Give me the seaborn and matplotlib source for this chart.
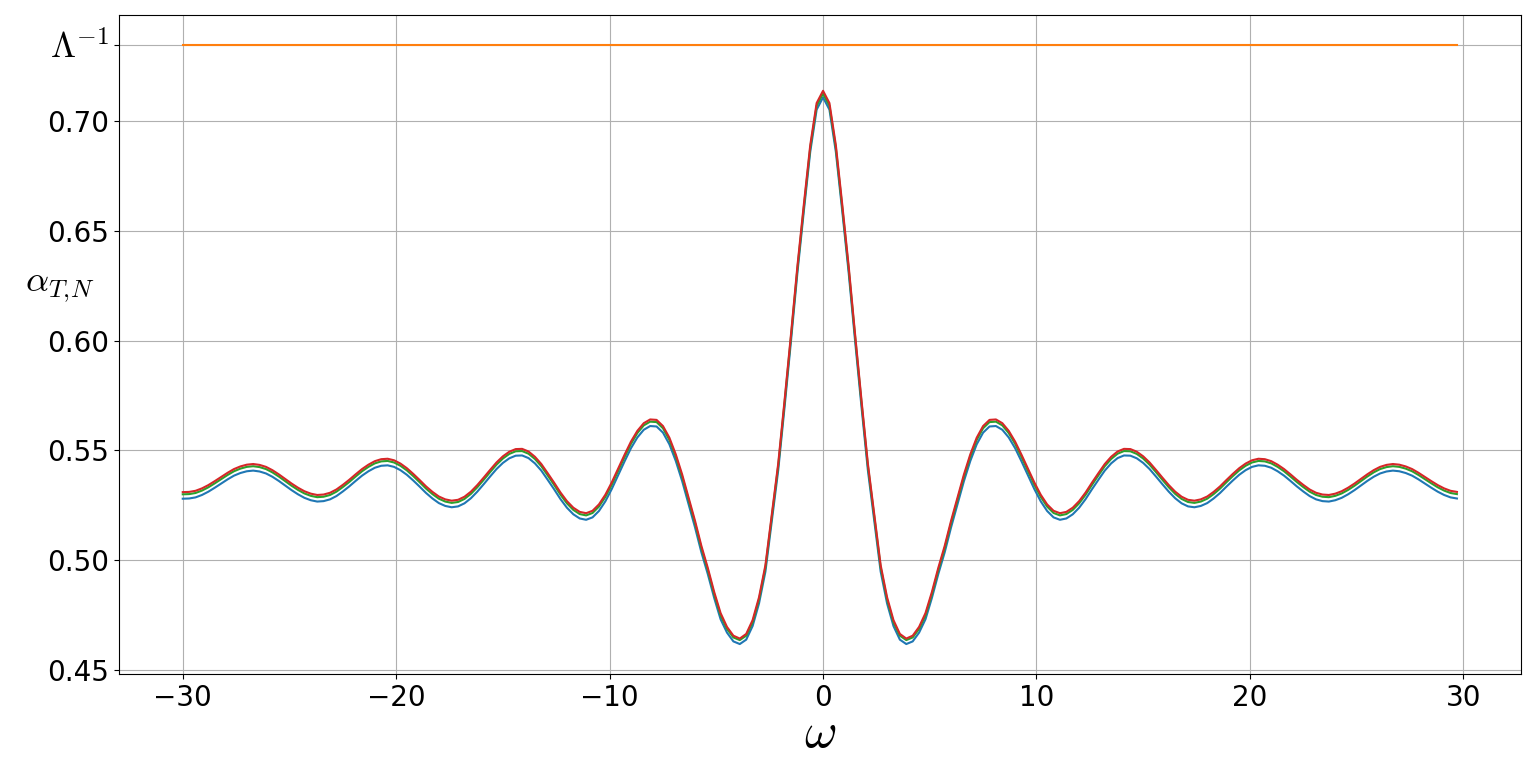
import matplotlib
matplotlib.use("Agg")
import matplotlib.pyplot as plt
import pandas as pd
import seaborn as sns

# omega grid, step 0.3 from -30 to 29.7
omega = [-30.0, -29.7, -29.4, -29.1, -28.8, -28.5, -28.2, -27.9, -27.6, -27.3,
         -27.0, -26.7, -26.4, -26.1, -25.8, -25.5, -25.2, -24.9, -24.6, -24.3,
         -24.0, -23.7, -23.4, -23.1, -22.8, -22.5, -22.2, -21.9, -21.6, -21.3,
         -21.0, -20.7, -20.4, -20.1, -19.8, -19.5, -19.2, -18.9, -18.6, -18.3,
         -18.0, -17.7, -17.4, -17.1, -16.8, -16.5, -16.2, -15.9, -15.6, -15.3,
         -15.0, -14.7, -14.4, -14.1, -13.8, -13.5, -13.2, -12.9, -12.6, -12.3,
         -12.0, -11.7, -11.4, -11.1, -10.8, -10.5, -10.2, -9.9, -9.6, -9.3,
         -9.0, -8.7, -8.4, -8.1, -7.8, -7.5, -7.2, -6.9, -6.6, -6.3,
         -6.0, -5.7, -5.4, -5.1, -4.8, -4.5, -4.2, -3.9, -3.6, -3.3,
         -3.0, -2.7, -2.4, -2.1, -1.8, -1.5, -1.2, -0.9, -0.6, -0.3,
         0.0,
         0.3, 0.6, 0.9, 1.2, 1.5, 1.8, 2.1, 2.4, 2.7, 3.0,
         3.3, 3.6, 3.9, 4.2, 4.5, 4.8, 5.1, 5.4, 5.7, 6.0,
         6.3, 6.6, 6.9, 7.2, 7.5, 7.8, 8.1, 8.4, 8.7, 9.0,
         9.3, 9.6, 9.9, 10.2, 10.5, 10.8, 11.1, 11.4, 11.7, 12.0,
         12.3, 12.6, 12.9, 13.2, 13.5, 13.8, 14.1, 14.4, 14.7, 15.0,
         15.3, 15.6, 15.9, 16.2, 16.5, 16.8, 17.1, 17.4, 17.7, 18.0,
         18.3, 18.6, 18.9, 19.2, 19.5, 19.8, 20.1, 20.4, 20.7, 21.0,
         21.3, 21.6, 21.9, 22.2, 22.5, 22.8, 23.1, 23.4, 23.7, 24.0,
         24.3, 24.6, 24.9, 25.2, 25.5, 25.8, 26.1, 26.4, 26.7, 27.0,
         27.3, 27.6, 27.9, 28.2, 28.5, 28.8, 29.1, 29.4, 29.7]

alpha_blue = [0.5280, 0.5281, 0.5286, 0.5297, 0.5312, 0.5330, 0.5349, 0.5368, 0.5385, 0.5397,
              0.5405, 0.5408, 0.5404, 0.5395, 0.5380, 0.5361, 0.5340, 0.5319, 0.5300, 0.5284,
              0.5273, 0.5267, 0.5269, 0.5277, 0.5292, 0.5313, 0.5336, 0.5361, 0.5385, 0.5405,
              0.5421, 0.5430, 0.5432, 0.5425, 0.5410, 0.5389, 0.5363, 0.5335, 0.5306, 0.5281,
              0.5260, 0.5247, 0.5241, 0.5245, 0.5259, 0.5282, 0.5312, 0.5346, 0.5381, 0.5415,
              0.5443, 0.5464, 0.5476, 0.5477, 0.5465, 0.5441, 0.5408, 0.5366, 0.5323, 0.5278,
              0.5239, 0.5209, 0.5190, 0.5184, 0.5195, 0.5224, 0.5268, 0.5324, 0.5387, 0.5450,
              0.5510, 0.5559, 0.5594, 0.5611, 0.5609, 0.5581, 0.5528, 0.5452, 0.5360, 0.5255,
              0.5150, 0.5036, 0.4937, 0.4828, 0.4731, 0.4670, 0.4630, 0.4618, 0.4638, 0.4700,
              0.4803, 0.4948, 0.5180, 0.5410, 0.5700, 0.6000, 0.6310, 0.6590, 0.6860, 0.7052,
              0.7108,
              0.7052, 0.6860, 0.6590, 0.6310, 0.6000, 0.5700, 0.5410, 0.5180, 0.4948, 0.4803,
              0.4700, 0.4638, 0.4618, 0.4630, 0.4670, 0.4731, 0.4828, 0.4937, 0.5036, 0.5150,
              0.5255, 0.5360, 0.5452, 0.5528, 0.5581, 0.5609, 0.5611, 0.5594, 0.5559, 0.5510,
              0.5450, 0.5387, 0.5324, 0.5268, 0.5224, 0.5195, 0.5184, 0.5190, 0.5209, 0.5239,
              0.5278, 0.5323, 0.5366, 0.5408, 0.5441, 0.5465, 0.5477, 0.5476, 0.5464, 0.5443,
              0.5415, 0.5381, 0.5346, 0.5312, 0.5282, 0.5259, 0.5245, 0.5241, 0.5247, 0.5260,
              0.5281, 0.5306, 0.5335, 0.5363, 0.5389, 0.5410, 0.5425, 0.5432, 0.5430, 0.5421,
              0.5405, 0.5385, 0.5361, 0.5336, 0.5313, 0.5292, 0.5277, 0.5269, 0.5267, 0.5273,
              0.5284, 0.5300, 0.5319, 0.5340, 0.5361, 0.5380, 0.5395, 0.5404, 0.5408, 0.5405,
              0.5397, 0.5385, 0.5368, 0.5349, 0.5330, 0.5312, 0.5297, 0.5286, 0.5281]

alpha_green = [0.5300, 0.5301, 0.5306, 0.5317, 0.5332, 0.5350, 0.5369, 0.5388, 0.5405, 0.5417,
               0.5425, 0.5428, 0.5424, 0.5415, 0.5400, 0.5381, 0.5360, 0.5339, 0.5320, 0.5304,
               0.5293, 0.5287, 0.5289, 0.5297, 0.5312, 0.5333, 0.5356, 0.5381, 0.5405, 0.5425,
               0.5441, 0.5450, 0.5452, 0.5445, 0.5430, 0.5409, 0.5383, 0.5355, 0.5326, 0.5301,
               0.5280, 0.5267, 0.5261, 0.5265, 0.5279, 0.5302, 0.5332, 0.5366, 0.5401, 0.5435,
               0.5463, 0.5484, 0.5496, 0.5497, 0.5485, 0.5461, 0.5428, 0.5386, 0.5343, 0.5298,
               0.5259, 0.5229, 0.5210, 0.5204, 0.5215, 0.5244, 0.5288, 0.5344, 0.5407, 0.5470,
               0.5530, 0.5579, 0.5614, 0.5631, 0.5629, 0.5601, 0.5548, 0.5472, 0.5380, 0.5275,
               0.5170, 0.5055, 0.4955, 0.4845, 0.4749, 0.4687, 0.4648, 0.4636, 0.4656, 0.4717,
               0.4821, 0.4967, 0.5200, 0.5430, 0.5720, 0.6020, 0.6328, 0.6607, 0.6878, 0.7070,
               0.7125,
               0.7070, 0.6878, 0.6607, 0.6328, 0.6020, 0.5720, 0.5430, 0.5200, 0.4967, 0.4821,
               0.4717, 0.4656, 0.4636, 0.4648, 0.4687, 0.4749, 0.4845, 0.4955, 0.5055, 0.5170,
               0.5275, 0.5380, 0.5472, 0.5548, 0.5601, 0.5629, 0.5631, 0.5614, 0.5579, 0.5530,
               0.5470, 0.5407, 0.5344, 0.5288, 0.5244, 0.5215, 0.5204, 0.5210, 0.5229, 0.5259,
               0.5298, 0.5343, 0.5386, 0.5428, 0.5461, 0.5485, 0.5497, 0.5496, 0.5484, 0.5463,
               0.5435, 0.5401, 0.5366, 0.5332, 0.5302, 0.5279, 0.5265, 0.5261, 0.5267, 0.5280,
               0.5301, 0.5326, 0.5355, 0.5383, 0.5409, 0.5430, 0.5445, 0.5452, 0.5450, 0.5441,
               0.5425, 0.5405, 0.5381, 0.5356, 0.5333, 0.5312, 0.5297, 0.5289, 0.5287, 0.5293,
               0.5304, 0.5320, 0.5339, 0.5360, 0.5381, 0.5400, 0.5415, 0.5424, 0.5428, 0.5425,
               0.5417, 0.5405, 0.5388, 0.5369, 0.5350, 0.5332, 0.5317, 0.5306, 0.5301]

alpha_red = [0.5310, 0.5311, 0.5316, 0.5327, 0.5342, 0.5360, 0.5379, 0.5398, 0.5415, 0.5427,
             0.5435, 0.5438, 0.5434, 0.5425, 0.5410, 0.5391, 0.5370, 0.5349, 0.5330, 0.5314,
             0.5303, 0.5297, 0.5299, 0.5307, 0.5322, 0.5343, 0.5366, 0.5391, 0.5415, 0.5435,
             0.5451, 0.5460, 0.5462, 0.5455, 0.5440, 0.5419, 0.5393, 0.5365, 0.5336, 0.5311,
             0.5290, 0.5277, 0.5271, 0.5275, 0.5289, 0.5312, 0.5342, 0.5376, 0.5411, 0.5445,
             0.5473, 0.5494, 0.5506, 0.5507, 0.5495, 0.5471, 0.5438, 0.5396, 0.5353, 0.5308,
             0.5269, 0.5239, 0.5220, 0.5214, 0.5225, 0.5254, 0.5298, 0.5354, 0.5417, 0.5480,
             0.5540, 0.5589, 0.5624, 0.5641, 0.5639, 0.5611, 0.5558, 0.5482, 0.5390, 0.5285,
             0.5180, 0.5065, 0.4965, 0.4855, 0.4759, 0.4696, 0.4656, 0.4643, 0.4664, 0.4727,
             0.4831, 0.4977, 0.5210, 0.5440, 0.5730, 0.6030, 0.6340, 0.6620, 0.6890, 0.7082,
             0.7138,
             0.7082, 0.6890, 0.6620, 0.6340, 0.6030, 0.5730, 0.5440, 0.5210, 0.4977, 0.4831,
             0.4727, 0.4664, 0.4643, 0.4656, 0.4696, 0.4759, 0.4855, 0.4965, 0.5065, 0.5180,
             0.5285, 0.5390, 0.5482, 0.5558, 0.5611, 0.5639, 0.5641, 0.5624, 0.5589, 0.5540,
             0.5480, 0.5417, 0.5354, 0.5298, 0.5254, 0.5225, 0.5214, 0.5220, 0.5239, 0.5269,
             0.5308, 0.5353, 0.5396, 0.5438, 0.5471, 0.5495, 0.5507, 0.5506, 0.5494, 0.5473,
             0.5445, 0.5411, 0.5376, 0.5342, 0.5312, 0.5289, 0.5275, 0.5271, 0.5277, 0.5290,
             0.5311, 0.5336, 0.5365, 0.5393, 0.5419, 0.5440, 0.5455, 0.5462, 0.5460, 0.5451,
             0.5435, 0.5415, 0.5391, 0.5366, 0.5343, 0.5322, 0.5307, 0.5299, 0.5297, 0.5303,
             0.5314, 0.5330, 0.5349, 0.5370, 0.5391, 0.5410, 0.5425, 0.5434, 0.5438, 0.5435,
             0.5427, 0.5415, 0.5398, 0.5379, 0.5360, 0.5342, 0.5327, 0.5316, 0.5311]

# Lambda^-1 level (horizontal orange line)
lam_inv = 0.7346
lam_x = [-30.0, 29.7]
lam_y = [lam_inv, lam_inv]

xtick_vals = [-30, -20, -10, 0, 10, 20, 30]
ytick_vals = [0.45, 0.50, 0.55, 0.60, 0.65, 0.70]
ytick_labels = ["0.45", "0.50", "0.55", "0.60", "0.65", "0.70"]

plt.rcParams["mathtext.fontset"] = "cm"

df = pd.concat([
    pd.DataFrame({"omega": omega, "alpha": alpha_blue, "curve": "a"}),
    pd.DataFrame({"omega": lam_x, "alpha": lam_y, "curve": "lam"}),
    pd.DataFrame({"omega": omega, "alpha": alpha_green, "curve": "b"}),
    pd.DataFrame({"omega": omega, "alpha": alpha_red, "curve": "c"}),
], ignore_index=True)

fig, ax = plt.subplots(figsize=(15.36, 7.59), dpi=100)
fig.subplots_adjust(left=0.0775, right=0.990, top=0.980, bottom=0.112)

sns.lineplot(data=df, x="omega", y="alpha", hue="curve",
             hue_order=["a", "lam", "b", "c"],
             palette=["#1f77b4", "#ff7f0e", "#2ca02c", "#d62728"],
             estimator=None, legend=False, linewidth=1.5, ax=ax)

ax.grid(True, color="#b0b0b0", linewidth=0.8)
ax.set_xticks(xtick_vals)
ax.set_xticklabels([str(v).replace("-", "\u2212") for v in xtick_vals], fontsize=20)
ax.set_yticks(ytick_vals + [lam_inv])
ax.set_yticklabels(ytick_labels + [r"$\Lambda^{-1}$"], fontsize=20)
ax.get_yticklabels()[-1].set_fontsize(26)

ax.set_xlabel(r"$\omega$", fontsize=36, labelpad=-2)
ax.set_ylabel(r"$\alpha_{T,\!N}$", fontsize=26, rotation=0, ha="center", va="center")
ax.yaxis.set_label_coords(-0.042, 0.587)

fig.savefig("out.png", dpi=100)
